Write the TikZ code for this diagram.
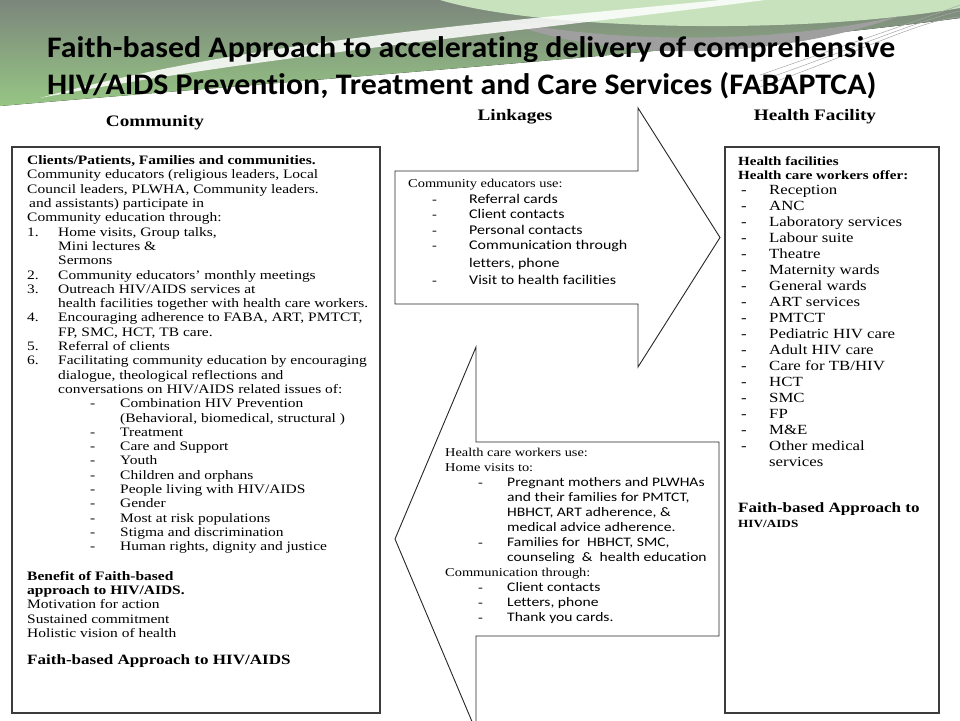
\documentclass[tikz,border=0pt]{standalone}
\usepackage{fontspec}
\setmainfont{Liberation Serif}[FakeStretch=1.2]
\newfontfamily\calibri{Carlito}[FakeStretch=1.2, RawFeature=-liga]
\newfontfamily\titlefont{Carlito}[FakeStretch=1.07, RawFeature=-liga]
\definecolor{hdrgray}{RGB}{124,134,124}
\definecolor{hdrgreen}{RGB}{150,198,132}
\definecolor{hdrlight}{RGB}{200,226,190}
\definecolor{boxgray}{RGB}{60,60,60}
\newcommand{\numln}[2]{\makebox[31pt][l]{#1}#2}
\newcommand{\subln}[1]{\hspace*{31pt}#1}
\newcommand{\dashitem}[3]{\hspace*{#1}\makebox[#2][l]{-}#3}

\begin{document}
\begin{tikzpicture}[x=1pt, y=-1pt, >=latex,
  boxline/.style={draw=boxgray, line width=1.3pt},
  arrowline/.style={draw=black!85, line width=0.9pt, fill=white},
  txt/.style={inner sep=0pt, align=left, anchor=north west},
  head/.style={inner sep=0pt, font=\fontsize{16}{18}\selectfont\bfseries}]

\useasboundingbox (0,0) rectangle (960,720);

% header band
\fill[top color=hdrgray, bottom color=hdrgreen] (0,0) -- (960,0) -- (960,18)
  .. controls (700,52) and (300,80) .. (0,106) -- cycle;
\fill[hdrlight] (440,0) .. controls (540,30) and (800,36) .. (960,8) -- (960,0) -- cycle;
\fill[gray!75] (500,20) .. controls (620,66) and (780,58) .. (900,16)
  .. controls (780,42) and (630,46) .. (500,20) -- cycle;
\fill[white, opacity=0.85] (40,98) .. controls (250,40) and (500,22) .. (720,0) -- (765,0)
  .. controls (520,32) and (260,56) .. (40,98) -- cycle;
\fill[white, opacity=0.7] (0,110) .. controls (300,80) and (700,62) .. (960,24) -- (960,36)
  .. controls (700,76) and (300,94) .. (0,118) -- cycle;
\foreach \dy in {0,6,12}
  \draw[gray!70, line width=0.5pt] (760,75+\dy) .. controls (860,40+\dy) and (920,20) .. (960,5+\dy);

% title
\node[inner sep=0pt, anchor=west, font=\titlefont\fontsize{29.8}{36}\selectfont\bfseries] (title1) at (47,50)
  {Faith-based Approach to accelerating delivery of comprehensive};
\node[inner sep=0pt, anchor=west, font=\titlefont\fontsize{29.8}{36}\selectfont\bfseries] (title2) at (47,86)
  {HIV/AIDS Prevention, Treatment and Care Services (FABAPTCA)};

% headings
\node[head] (commhead) at (155,123) {Community};
\node[head] (linkhead) at (515,117) {Linkages};
\node[head] (hfhead) at (815,117) {Health Facility};

% boxes
\draw[boxline] (12,147) rectangle (380,713);
\draw[boxline] (725,147) rectangle (939,713);

% linkage arrows
\draw[arrowline] (395,171) -- (638,171) -- (638,108) -- (720,237.5) -- (638,367)
  -- (638,304) -- (395,304) -- cycle;
\begin{scope}
\clip (0,0) rectangle (960,720);
\draw[arrowline] (719,442) -- (476,442) -- (476,347) -- (395,539) -- (476,731)
  -- (476,636) -- (719,636) -- cycle;
\end{scope}

% community text
\node[txt, font=\fontsize{12.9}{14.3}\selectfont] (commtext) at (27,155.5) {%
\textbf{Clients/Patients, Families and communities.}\\
Community educators (religious leaders, Local\\
Council leaders, PLWHA, Community leaders.\\
\hspace*{2pt}and assistants) participate in\\
Community education through:\\
\numln{1.}{Home visits, Group talks,}\\
\subln{Mini lectures \&}\\
\subln{Sermons}\\
\numln{2.}{Community educators’ monthly meetings}\\
\numln{3.}{Outreach HIV/AIDS services at}\\
\subln{health facilities together with health care workers.}\\
\numln{4.}{Encouraging adherence to FABA, ART, PMTCT,}\\
\subln{FP, SMC, HCT, TB care.}\\
\numln{5.}{Referral of clients}\\
\numln{6.}{Facilitating community education by encouraging}\\
\subln{dialogue, theological reflections and}\\
\subln{conversations on HIV/AIDS related issues of:}\\
\dashitem{63pt}{30pt}{Combination HIV Prevention}\\
\hspace*{93pt}(Behavioral, biomedical, structural )\\
\dashitem{63pt}{30pt}{Treatment}\\
\dashitem{63pt}{30pt}{Care and Support}\\
\dashitem{63pt}{30pt}{Youth}\\
\dashitem{63pt}{30pt}{Children and orphans}\\
\dashitem{63pt}{30pt}{People living with HIV/AIDS}\\
\dashitem{63pt}{30pt}{Gender}\\
\dashitem{63pt}{30pt}{Most at risk populations}\\
\dashitem{63pt}{30pt}{Stigma and discrimination}\\
\dashitem{63pt}{30pt}{Human rights, dignity and justice}};

\node[txt, font=\fontsize{12.9}{14.3}\selectfont] (benefit) at (27,571) {%
\textbf{Benefit of Faith-based}\\
\textbf{approach to HIV/AIDS.}\\
Motivation for action\\
Sustained commitment\\
Holistic vision of health};

\node[inner sep=0pt, anchor=west, font=\fontsize{14.2}{16}\selectfont\bfseries] (commfaba) at (27,661)
  {Faith-based Approach to HIV/AIDS};

% linkage texts
\node[txt, font=\fontsize{12}{15.6}\selectfont] (cetext) at (408,179) {%
Community educators use:\\
\dashitem{24pt}{37pt}{\calibri\fontsize{13.3}{15.6}\selectfont Referral cards}\\
\dashitem{24pt}{37pt}{\calibri\fontsize{13.3}{15.6}\selectfont Client contacts}\\
\dashitem{24pt}{37pt}{\calibri\fontsize{13.3}{15.6}\selectfont Personal contacts}\\
\dashitem{24pt}{37pt}{\calibri\fontsize{13.3}{15.6}\selectfont Communication through}\\[1.5pt]
\hspace*{61pt}{\calibri\fontsize{13.3}{15.6}\selectfont letters, phone}\\[1.5pt]
\dashitem{24pt}{37pt}{\calibri\fontsize{13.3}{15.6}\selectfont Visit to health facilities}};

\node[txt, font=\fontsize{12}{15}\selectfont] (hwtext) at (445,448) {%
Health care workers use:\\
Home visits to:\\
\dashitem{33pt}{29pt}{\calibri\fontsize{13}{15}\selectfont Pregnant mothers and PLWHAs}\\
\hspace*{62pt}{\calibri\fontsize{13}{15}\selectfont and their families for PMTCT,}\\
\hspace*{62pt}{\calibri\fontsize{13}{15}\selectfont HBHCT, ART adherence, \&}\\
\hspace*{62pt}{\calibri\fontsize{13}{15}\selectfont medical advice adherence.}\\
\dashitem{33pt}{29pt}{\calibri\fontsize{13}{15}\selectfont Families for\ \ HBHCT, SMC,}\\
\hspace*{62pt}{\calibri\fontsize{13}{15}\selectfont counseling\ \ \&\ \ health education}\\
Communication through:\\
\dashitem{33pt}{29pt}{\calibri\fontsize{13}{15}\selectfont Client contacts}\\
\dashitem{33pt}{29pt}{\calibri\fontsize{13}{15}\selectfont Letters, phone}\\
\dashitem{33pt}{29pt}{\calibri\fontsize{13}{15}\selectfont Thank you cards.}};

% health facility text
\node[txt, font=\fontsize{12.5}{14}\selectfont\bfseries] (hftop) at (738,156) {%
Health facilities\\
Health care workers offer:};
\node[txt, font=\fontsize{14}{16}\selectfont] (hflist) at (738,185) {%
\dashitem{3pt}{28pt}{Reception}\\
\dashitem{3pt}{28pt}{ANC}\\
\dashitem{3pt}{28pt}{Laboratory services}\\
\dashitem{3pt}{28pt}{Labour suite}\\
\dashitem{3pt}{28pt}{Theatre}\\
\dashitem{3pt}{28pt}{Maternity wards}\\
\dashitem{3pt}{28pt}{General wards}\\
\dashitem{3pt}{28pt}{ART services}\\
\dashitem{3pt}{28pt}{PMTCT}\\
\dashitem{3pt}{28pt}{Pediatric HIV care}\\
\dashitem{3pt}{28pt}{Adult HIV care}\\
\dashitem{3pt}{28pt}{Care for TB/HIV}\\
\dashitem{3pt}{28pt}{HCT}\\
\dashitem{3pt}{28pt}{SMC}\\
\dashitem{3pt}{28pt}{FP}\\
\dashitem{3pt}{28pt}{M\&E}\\
\dashitem{3pt}{28pt}{Other medical}\\
\hspace*{31pt}services};
\node[inner sep=0pt, anchor=west, font=\fontsize{14.2}{16}\selectfont\bfseries] (hffaba) at (738,509)
  {Faith-based Approach to};
\node[inner sep=0pt, anchor=west, font=\fontsize{11}{13}\selectfont\bfseries] (hfhiv) at (738,524)
  {HIV/AIDS};

\end{tikzpicture}
\end{document}
